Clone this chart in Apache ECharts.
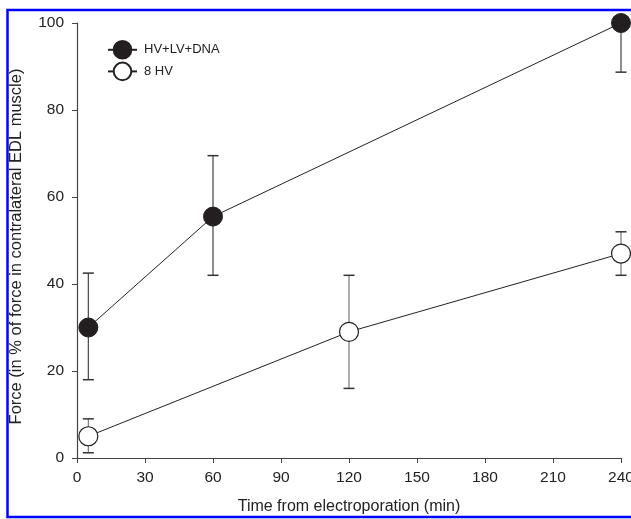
<!DOCTYPE html>
<html>
<head>
<meta charset="utf-8">
<script src="https://cdn.jsdelivr.net/npm/echarts@6/dist/echarts.min.js"></script>
<style>
html,body{margin:0;padding:0;background:#fff;}
#chart{width:631px;height:519px;}
</style>
</head>
<body>
<div id="chart"></div>
<script>
// Data
var timesA = [5, 60, 240];
var forceA = [30, 55.5, 100];
var lowA = [18, 42, 88.7];
var highA = [42.5, 69.5, 100];

var timesB = [5, 120, 240];
var forceB = [5, 29, 47];
var lowB = [1.2, 16, 42];
var highB = [9, 42, 52];

var seriesNames = ['HV+LV+DNA', '8 HV'];
var xTicks = [0, 30, 60, 90, 120, 150, 180, 210, 240];
var yTicks = [0, 20, 40, 60, 80, 100];

function pairs(xs, ys) { return xs.map(function (x, i) { return [x, ys[i]]; }); }
function errs(xs, lo, hi) { return xs.map(function (x, i) { return [x, lo[i], hi[i]]; }); }

function errRender(lineColor, capColor) {
  return function (params, api) {
    var x = api.value(0);
    var lo = api.coord([x, api.value(1)]);
    var hi = api.coord([x, api.value(2)]);
    var hw = 5.5;
    return {
      type: 'group',
      children: [
        { type: 'line', shape: { x1: lo[0], y1: lo[1], x2: hi[0], y2: hi[1] }, style: { stroke: lineColor, lineWidth: 1.2 } },
        { type: 'line', shape: { x1: lo[0] - hw, y1: lo[1], x2: lo[0] + hw, y2: lo[1] }, style: { stroke: capColor, lineWidth: 1.5 } },
        { type: 'line', shape: { x1: hi[0] - hw, y1: hi[1], x2: hi[0] + hw, y2: hi[1] }, style: { stroke: capColor, lineWidth: 1.5 } }
      ]
    };
  };
}

var font = 'Liberation Sans, Arial, sans-serif';
var chart = echarts.init(document.getElementById('chart'));
chart.setOption({
  animation: false,
  backgroundColor: '#fff',
  grid: { left: 77, right: 10, top: 23, bottom: 61, outerBoundsMode: 'none', containLabel: false },
  graphic: [{
    type: 'rect', silent: true, z: 100,
    shape: { x: 7.5, y: 10, width: 700, height: 507 },
    style: { fill: 'none', stroke: '#0000ff', lineWidth: 2.5 }
  }],
  legend: {
    left: 102, top: 35, orient: 'vertical',
    itemWidth: 29, itemHeight: 22, itemGap: 2,
    data: seriesNames,
    textStyle: { fontFamily: font, fontSize: 13, color: '#222', padding: [0, 0, 0, 2] }
  },
  xAxis: {
    type: 'value', min: 0, max: 240, interval: 30,
    name: 'Time from electroporation (min)', nameLocation: 'middle', nameGap: 41,
    nameTextStyle: { fontFamily: font, fontSize: 16, color: '#222' },
    axisLine: { show: true, lineStyle: { color: '#444', width: 1.2 } },
    axisTick: { show: true, length: 5, lineStyle: { color: '#444' } },
    axisLabel: { fontFamily: font, fontSize: 15.5, color: '#222', margin: 12,
      formatter: function (v) { return xTicks.indexOf(v) >= 0 ? String(v) : ''; } },
    splitLine: { show: false }
  },
  yAxis: {
    type: 'value', min: 0, max: 100, interval: 20,
    name: 'Force (in % of force in contralateral EDL muscle)', nameLocation: 'middle', nameGap: 52,
    nameTextStyle: { fontFamily: font, fontSize: 16.5, color: '#222', padding: [0, 12, 0, 0] },
    axisLine: { show: true, lineStyle: { color: '#444', width: 1.2 } },
    axisTick: { show: true, length: 5, lineStyle: { color: '#444' } },
    axisLabel: { fontFamily: font, fontSize: 15.5, color: '#222', margin: 13,
      formatter: function (v) { return yTicks.indexOf(v) >= 0 ? String(v) : ''; } },
    splitLine: { show: false }
  },
  series: [
    {
      type: 'custom', name: 'errA', renderItem: errRender('#444', '#333'),
      data: errs(timesA, lowA, highA), z: 1, clip: false
    },
    {
      type: 'custom', name: 'errB', renderItem: errRender('#777', '#333'),
      data: errs(timesB, lowB, highB), z: 1, clip: false
    },
    {
      type: 'line', name: seriesNames[0], data: pairs(timesA, forceA), z: 3,
      symbol: 'circle', symbolSize: 19,
      lineStyle: { color: '#222', width: 1 },
      itemStyle: { color: '#231f20', borderColor: '#231f20', borderWidth: 1 }
    },
    {
      type: 'line', name: seriesNames[1], data: pairs(timesB, forceB), z: 3,
      symbol: 'circle', symbolSize: 19,
      lineStyle: { color: '#222', width: 1 },
      itemStyle: { color: '#fff', borderColor: '#222', borderWidth: 1.2 }
    }
  ]
});
</script>
</body>
</html>
